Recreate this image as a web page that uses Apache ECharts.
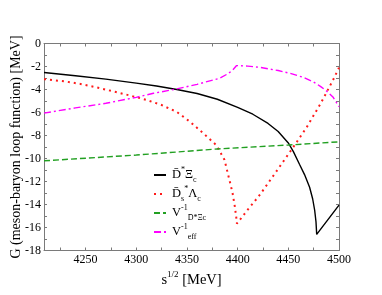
<!DOCTYPE html>
<html>
<head>
<meta charset="utf-8">
<script src="https://cdn.jsdelivr.net/npm/echarts@6/dist/echarts.min.js"></script>
<style>html,body{margin:0;padding:0;background:#fff;}#c{width:382px;height:295px;}</style>
</head>
<body>
<div id="c"></div>
<script>
// ---- data ----
var xTickValues = [4225, 4250, 4275, 4300, 4325, 4350, 4375, 4400, 4425, 4450, 4475, 4500];
var xLabelValues = [4250, 4300, 4350, 4400, 4450, 4500];

var dXi = [[4209,-2.52],[4240,-2.8],[4270,-3.1],[4300,-3.45],[4320,-3.7],[4340,-4.0],[4360,-4.35],[4380,-4.85],[4400,-5.55],[4415,-6.15],[4430,-6.95],[4440,-7.65],[4450,-8.65],[4455,-9.4],[4461,-10.5],[4466,-11.4],[4471,-12.5],[4474,-13.5],[4476,-14.5],[4477.3,-15.5],[4478,-16.6],[4500,-14.05]];

var dsLambda = [[4209,-3.1],[4230,-3.3],[4245,-3.52],[4260,-3.8],[4280,-4.22],[4295,-4.55],[4310,-4.9],[4325,-5.35],[4340,-5.95],[4353,-6.8],[4366,-7.8],[4379,-8.84],[4387,-10.1],[4392,-11.9],[4395,-13.0],[4397.3,-14.2],[4398.5,-15.0],[4399.3,-15.66],[4410,-14.45],[4422,-13.15],[4440,-10.9],[4455,-9.0],[4468,-7.3],[4476,-6.1],[4482,-5.2],[4488,-4.2],[4494,-3.2],[4500,-2.1]];

var vInv = [[4209,-10.2],[4300,-9.7],[4380,-9.17],[4450,-8.83],[4500,-8.55]];

var vEff = [[4209,-6.05],[4240,-5.6],[4270,-5.2],[4300,-4.68],[4317,-4.33],[4340,-3.95],[4360,-3.55],[4382,-3.03],[4390,-2.65],[4395,-2.33],[4399,-1.92],[4410,-1.97],[4422,-2.07],[4440,-2.35],[4452,-2.6],[4465,-2.95],[4475,-3.35],[4482,-3.75],[4488,-4.15],[4494,-4.65],[4500,-5.5]];

var seriesNames = ['DXi', 'DsLambda', 'Vinv', 'Veff'];

var serif = 'Liberation Serif';
var chart = echarts.init(document.getElementById('c'), null, {renderer: 'canvas'});

var legendText = {
  DXi: '{m|D\u0304}{sup|*}{m|\u039E}{sub|c}',
  DsLambda: '{m|D\u0304}{sub|s}{sup|*}{m|\u039B}{sub|c}',
  Vinv: '{m|V}{sup|-1}{sub|D\u0304*\u039Ec}',
  Veff: '{m|V}{sup|-1}{sub|eff}'
};

var axisCommon = {
  type: 'value', min: 4209, max: 4500,
  axisLine: {show: true, onZero: false, lineStyle: {color: '#7a7a7a', width: 1}},
  axisTick: {show: true, inside: true, length: 3, customValues: xTickValues, lineStyle: {color: '#7a7a7a'}},
  splitLine: {show: false}
};

var option = {
  backgroundColor: '#ffffff',
  animation: false,
  grid: {left: 44, right: 43, top: 43.5, bottom: 44.5, outerBoundsMode: 'none', containLabel: false},
  legend: {
    orient: 'vertical', left: 148, top: 161, itemWidth: 12, itemHeight: 10, itemGap: 1,
    data: seriesNames,
    itemStyle: {opacity: 0},
    formatter: function (n) { return legendText[n]; },
    textStyle: {
      fontFamily: serif, color: '#000', padding: [0, 0, 0, 1],
      rich: {
        m: {fontFamily: serif, fontSize: 12.5, color: '#000', lineHeight: 18},
        sup: {fontFamily: serif, fontSize: 8, color: '#000', verticalAlign: 'top'},
        sub: {fontFamily: serif, fontSize: 8, color: '#000', verticalAlign: 'bottom'}
      }
    }
  },
  xAxis: [
    Object.assign({}, axisCommon, {
      position: 'bottom',
      name: '{m|s}{sup|1/2}{m| [MeV]}', nameLocation: 'middle', nameGap: 20, nameMoveOverlap: false,
      nameTextStyle: {
        fontFamily: serif, fontSize: 14.5, color: '#000',
        rich: {
          m: {fontFamily: serif, fontSize: 14.5, color: '#000', lineHeight: 19},
          sup: {fontFamily: serif, fontSize: 9, color: '#000', verticalAlign: 'top'}
        }
      },
      axisLabel: {show: true, customValues: xLabelValues, margin: 3, fontFamily: serif, fontSize: 12, color: '#000',
        formatter: function (v) { return String(v); }}
    }),
    Object.assign({}, axisCommon, {
      position: 'top',
      axisLabel: {show: false}
    })
  ],
  yAxis: [
    {
      type: 'value', min: -18, max: 0, interval: 2, position: 'left',
      name: 'G (meson-baryon loop function) [MeV]', nameLocation: 'middle', nameGap: 21, nameRotate: 90, nameMoveOverlap: false,
      nameTextStyle: {fontFamily: serif, fontSize: 14, color: '#000'},
      axisLine: {show: true, onZero: false, lineStyle: {color: '#7a7a7a', width: 1}},
      axisTick: {show: true, inside: true, length: 3, lineStyle: {color: '#7a7a7a'}},
      minorTick: {show: true, splitNumber: 2, length: 3, lineStyle: {color: '#7a7a7a'}},
      axisLabel: {margin: 3, fontFamily: serif, fontSize: 12, color: '#000'},
      splitLine: {show: false}
    },
    {
      type: 'value', min: -18, max: 0, interval: 2, position: 'right',
      axisLine: {show: true, onZero: false, lineStyle: {color: '#7a7a7a', width: 1}},
      axisTick: {show: true, inside: true, length: 3, lineStyle: {color: '#7a7a7a'}},
      minorTick: {show: true, splitNumber: 2, length: 3, lineStyle: {color: '#7a7a7a'}},
      axisLabel: {show: false},
      splitLine: {show: false}
    }
  ],
  series: [
    {name: 'DXi', type: 'line', data: dXi, showSymbol: false, clip: true,
      lineStyle: {color: '#000000', width: 1.4, type: 'solid'}, itemStyle: {color: '#000000'}},
    {name: 'DsLambda', type: 'line', data: dsLambda, showSymbol: false, clip: true,
      lineStyle: {color: '#ff1a1a', width: 2, type: [2, 4]}, itemStyle: {color: '#ff1a1a'}},
    {name: 'Vinv', type: 'line', data: vInv, showSymbol: false, clip: true,
      lineStyle: {color: '#22a022', width: 1.4, type: [6, 3]}, itemStyle: {color: '#22a022'}},
    {name: 'Veff', type: 'line', data: vEff, showSymbol: false, clip: true,
      lineStyle: {color: '#ff00ff', width: 1.4, type: [7, 3, 2, 3]}, itemStyle: {color: '#ff00ff'}}
  ]
};
chart.setOption(option);
</script>
</body>
</html>
